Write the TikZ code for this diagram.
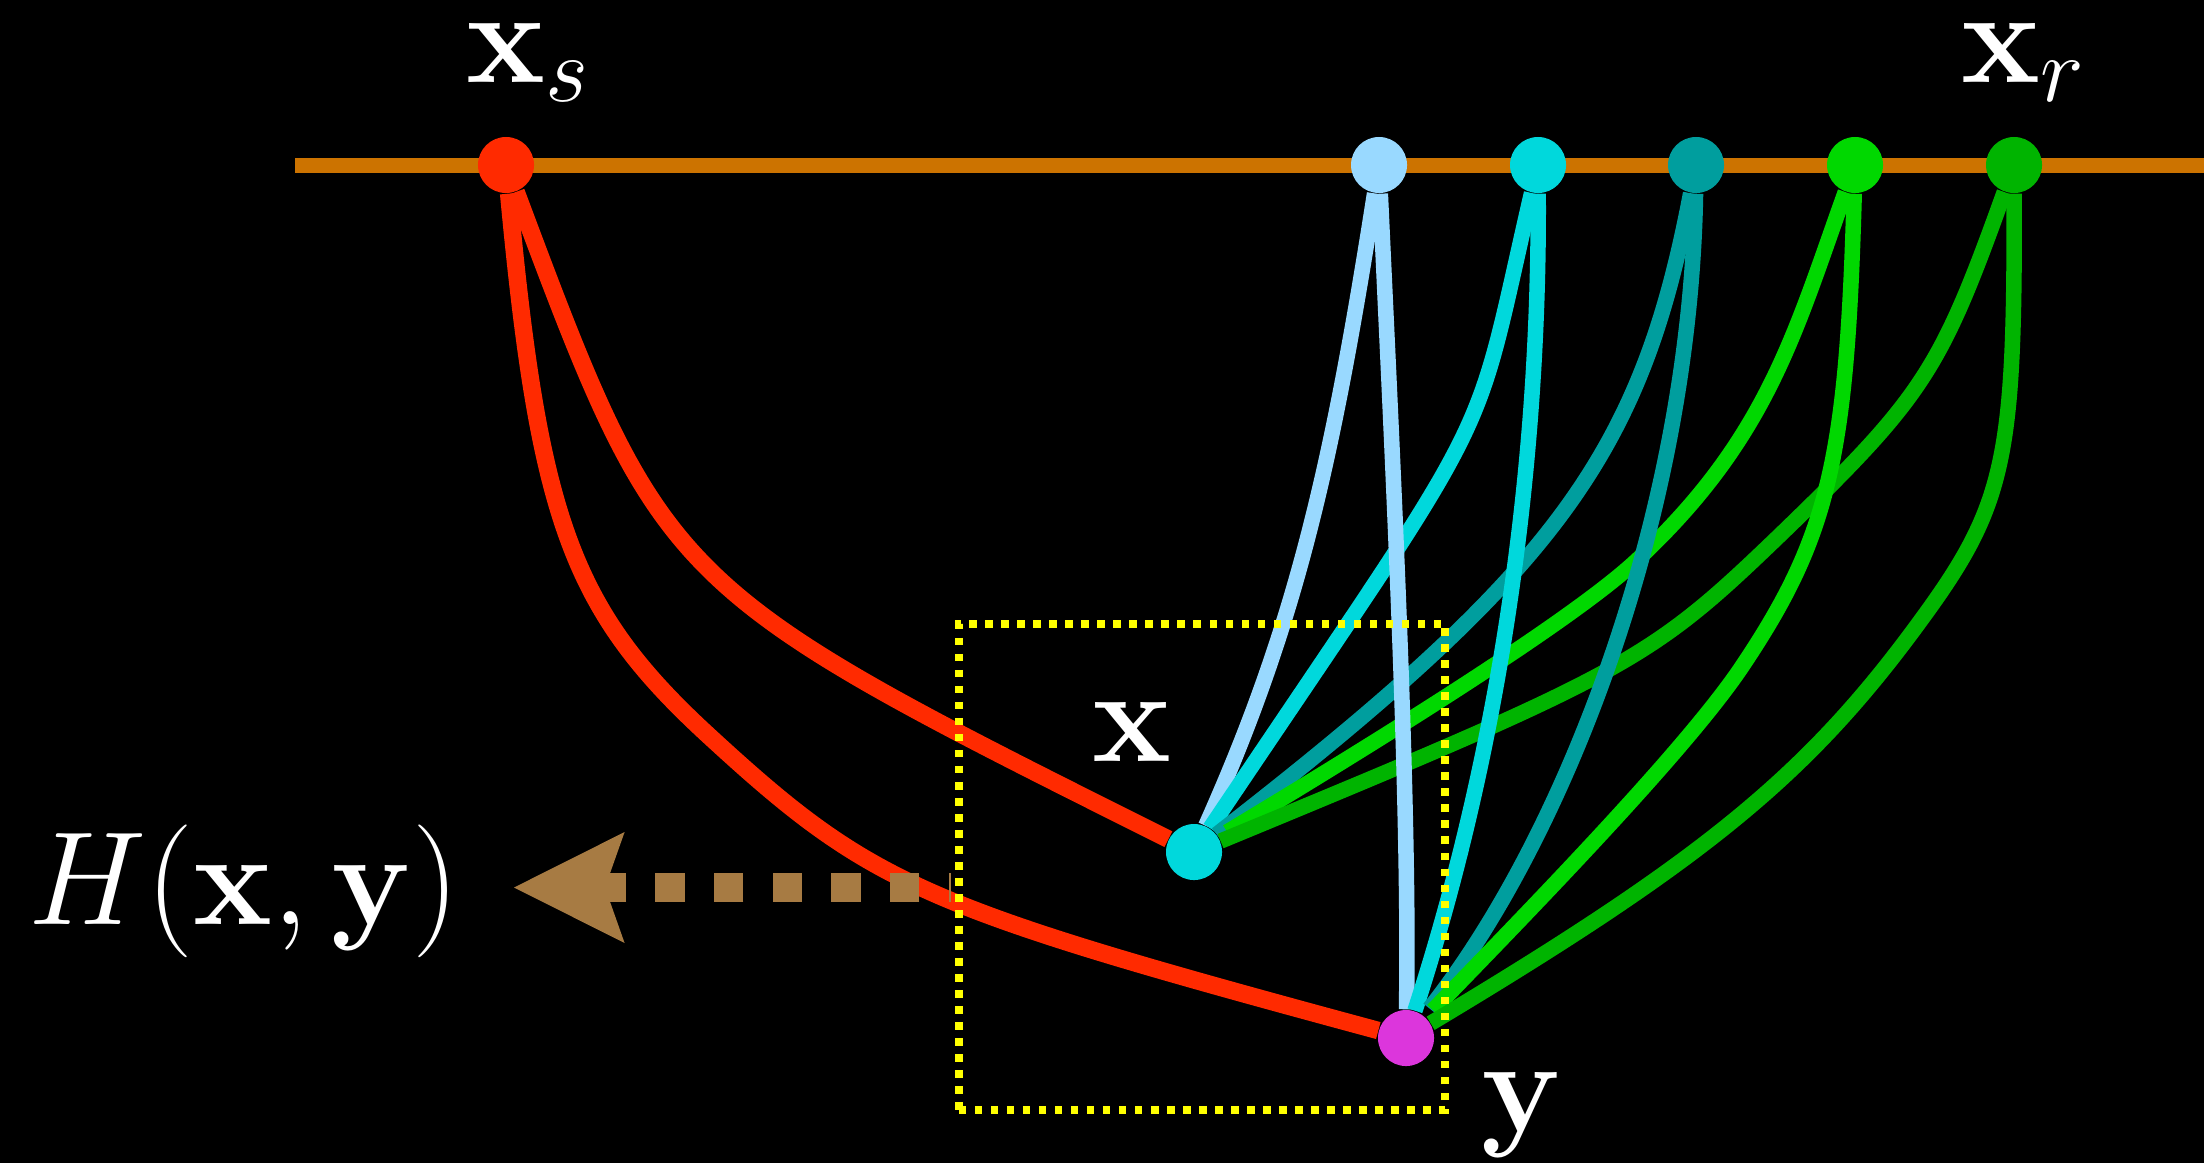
\RequirePackage{fix-cm}
\documentclass[tikz,border=0pt]{standalone}
\usetikzlibrary{backgrounds}
\definecolor{cOrange}{RGB}{204,115,0}
\definecolor{cRed}{RGB}{255,42,0}
\definecolor{cLightBlue}{RGB}{153,217,255}
\definecolor{cCyan}{RGB}{0,216,220}
\definecolor{cTeal}{RGB}{0,158,158}
\definecolor{cGreen}{RGB}{0,216,0}
\definecolor{cDarkGreen}{RGB}{0,180,0}
\definecolor{cMagenta}{RGB}{220,54,220}
\definecolor{cYellow}{RGB}{255,255,0}
\definecolor{cBrown}{RGB}{167,123,67}
\begin{document}
\begin{tikzpicture}[x=0.01cm,y=-0.01cm,
  dot/.style={circle,inner sep=0pt,minimum size=0.56cm,fill=#1},
  lbl/.style={text=white,inner sep=0pt,font=\fontsize{37.8pt}{45pt}\selectfont},
  redpath/.style={draw=cRed,line width=0.175cm},
  ray/.style={draw=#1,line width=0.155cm},
  axisline/.style={draw=cOrange,line width=0.15cm},
  window/.style={draw=cYellow,line width=0.075cm,dash pattern=on 0.075cm off 0.085cm,minimum width=4.86cm,minimum height=4.86cm,inner sep=0pt},
  shaft/.style={draw=cBrown,line width=0.29cm,dash pattern=on 0.293cm off 0.293cm,dash phase=0.265cm},
  headfill/.style={fill=cBrown}
]
\useasboundingbox (0,0) rectangle (2204,1163);
% points
\node[dot=cRed] (xs) at (506,165) {};
\node[dot=cLightBlue] (t1) at (1379,165) {};
\node[dot=cCyan] (t2) at (1538,165) {};
\node[dot=cTeal] (t3) at (1696,165) {};
\node[dot=cGreen] (t4) at (1855,165) {};
\node[dot=cDarkGreen] (t5) at (2014,165) {};
\node[dot=cCyan] (xn) at (1194,852) {};
\node[dot=cMagenta] (yn) at (1406,1038) {};
% window
\node[window] (win) at (1202,867) {};
% labels
\node[lbl,anchor=base west] (lxs) at (466,82) {$\mathbf{x}_s$};
\node[lbl,anchor=base west] (lxr) at (1961,82) {$\mathbf{x}_r$};
\node[lbl,anchor=base west] (lx) at (1092,761) {$\mathbf{x}$};
\node[lbl,anchor=base west] (ly) at (1481,1131) {$\mathbf{y}$};
\node[lbl,anchor=base east] (lH) at (460,924) {$H(\mathbf{x},\mathbf{y})$};
% arrow
\coordinate (hs) at (951.4,887.5);
\coordinate (hn) at (605,887.5);
\coordinate (ht) at (514,887.5);
\draw[shaft] (hs) -- (hn);
\fill[headfill] (ht) -- (624.6,832) -- (hn) -- (624.6,943) -- cycle;
\begin{scope}[on background layer]
\fill[black] (0,0) rectangle (2204,1163);
\coordinate (axl) at (295,165);
\coordinate (axr) at (2204,165);
\draw[axisline] (axl) -- (axr);
% source paths
\draw[redpath] (xs) .. controls (664,587) and (664,587) .. (xn);
\draw[redpath] (xs) .. controls (539,518) and (571,609) .. (708,735)
  .. controls (872,886) and (921,907) .. (yn);
% receiver paths to x
\draw[ray=cLightBlue] (t1) .. controls (1332,466) and (1296,624) .. (xn);
\draw[ray=cCyan] (t2) .. controls (1470,460) and (1504,391) .. (xn);
\draw[ray=cTeal] (t3) .. controls (1641,455) and (1556,571) .. (xn);
\draw[ray=cGreen,shorten >=0.1cm] (t4) .. controls (1794,335) and (1767,439) .. (1636,561)
  .. controls (1563,629) and (1323,774) .. (xn);
\draw[ray=cDarkGreen] (t5) .. controls (1940,371) and (1924,396) .. (1779,536)
  .. controls (1650,660) and (1630,672) .. (xn);
% receiver paths to y
\draw[ray=cLightBlue] (t1) .. controls (1392,450) and (1410,800) .. (yn);
\draw[ray=cCyan] (t2) .. controls (1540,500) and (1490,780) .. (yn);
\draw[ray=cTeal,shorten >=0.09cm] (t3) .. controls (1690,520) and (1561,843) .. (yn);
\draw[ray=cGreen,shorten >=0.1cm] (t4) .. controls (1847,455) and (1830,535) .. (1743,665)
  .. controls (1688,748) and (1530,910) .. (yn);
\draw[ray=cDarkGreen] (t5) .. controls (2015,458) and (2006,504) .. (1921,620)
  .. controls (1808,775) and (1705,859) .. (yn);
\end{scope}
\end{tikzpicture}
\end{document}
